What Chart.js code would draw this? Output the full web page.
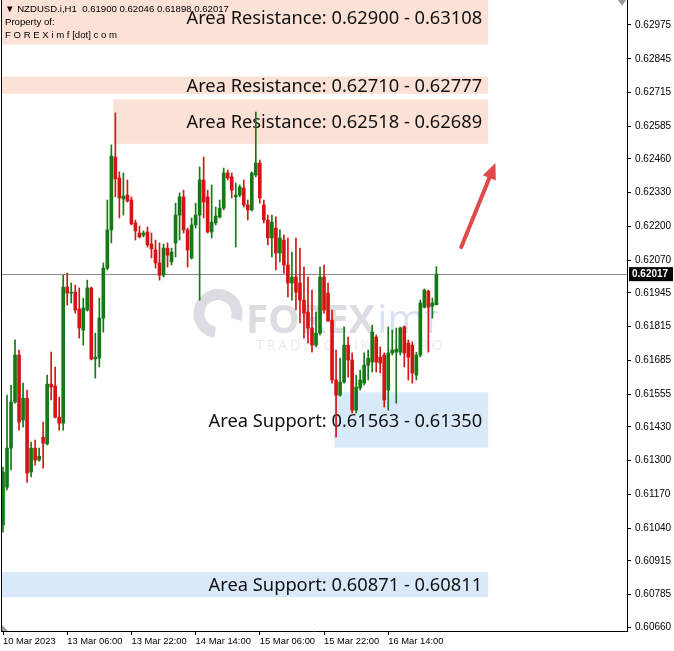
<!DOCTYPE html>
<html>
<head>
<meta charset="utf-8">
<script src="https://cdn.jsdelivr.net/npm/chart.js@4.4.0/dist/chart.umd.min.js"></script>
<style>
  html, body { margin: 0; padding: 0; background: #fff; }
  #wrap { width: 674px; height: 651px; }
</style>
</head>
<body>
<div id="wrap"><canvas id="myChart"></canvas></div>
<script>
// NZDUSD H1 candles (oldest first)
const openP = [0.61052,0.61198,0.61348,0.61525,0.61706,0.61456,0.61540,0.61256,0.61348,0.61302,
  0.61390,0.61364,0.61594,0.61587,0.61467,0.61444,0.61967,0.61944,0.61948,0.61883,
  0.61802,0.61879,0.61964,0.61691,0.61694,0.61848,0.62040,0.62187,0.62467,0.62387,
  0.62306,0.62321,0.62302,0.62214,0.62175,0.62167,0.62179,0.62133,0.62110,0.62060,
  0.62013,0.62117,0.62064,0.62137,0.62244,0.62314,0.62187,0.62079,0.62206,0.62244,
  0.62379,0.62314,0.62179,0.62214,0.62237,0.62271,0.62406,0.62391,0.62314,0.62321,
  0.62348,0.62283,0.62264,0.62398,0.62444,0.62283,0.62225,0.62156,0.62194,0.62098,
  0.62148,0.62052,0.61983,0.62006,0.61983,0.61917,0.61871,0.61810,0.61744,0.61790,
  0.62006,0.61944,0.61840,0.61610,0.61552,0.61602,0.61744,0.61687,0.61494,0.61579,
  0.61598,0.61667,0.61679,0.61775,0.61698,0.61706,0.61571,0.61714,0.61717,0.61717,
  0.61814,0.61752,0.61744,0.61629,0.61706,0.61890,0.61952,0.61894,0.61900];
const highP = [0.61275,0.61552,0.61590,0.61764,0.61725,0.61598,0.61571,0.61371,0.61379,0.61348,
  0.61448,0.61629,0.61717,0.61660,0.61544,0.62013,0.62021,0.61983,0.61975,0.61964,
  0.61925,0.61994,0.61967,0.61790,0.61925,0.62060,0.62302,0.62514,0.62637,0.62410,
  0.62406,0.62379,0.62314,0.62225,0.62202,0.62183,0.62198,0.62175,0.62148,0.62137,
  0.62133,0.62137,0.62117,0.62290,0.62329,0.62340,0.62194,0.62233,0.62290,0.62429,
  0.62467,0.62340,0.62360,0.62275,0.62302,0.62425,0.62417,0.62406,0.62367,0.62360,
  0.62379,0.62302,0.62410,0.62640,0.62456,0.62302,0.62244,0.62244,0.62237,0.62187,
  0.62167,0.62156,0.62102,0.62156,0.62117,0.62044,0.62006,0.61956,0.61871,0.62044,
  0.62052,0.61983,0.61879,0.61725,0.61694,0.61814,0.61775,0.61714,0.61629,0.61648,
  0.61714,0.61725,0.61821,0.61783,0.61737,0.61714,0.61814,0.61802,0.61810,0.61814,
  0.61818,0.61764,0.61756,0.61717,0.61917,0.61960,0.61956,0.61925,0.62046];
const lowP = [0.61025,0.61187,0.61264,0.61521,0.61417,0.61429,0.61217,0.61237,0.61283,0.61298,
  0.61271,0.61360,0.61533,0.61464,0.61417,0.61417,0.61898,0.61906,0.61867,0.61771,
  0.61744,0.61875,0.61687,0.61617,0.61660,0.61794,0.62033,0.62137,0.62314,0.62233,
  0.62244,0.62294,0.62206,0.62148,0.62156,0.62160,0.62121,0.62079,0.62040,0.61994,
  0.62006,0.62044,0.62052,0.62083,0.62148,0.62175,0.62044,0.62075,0.62194,0.61917,
  0.62233,0.62175,0.62156,0.62206,0.62233,0.62264,0.62379,0.62310,0.62121,0.62314,
  0.62275,0.62225,0.62260,0.62391,0.62290,0.62214,0.62129,0.62083,0.62033,0.62064,
  0.62021,0.61929,0.61917,0.61879,0.61829,0.61771,0.61752,0.61717,0.61737,0.61783,
  0.61867,0.61836,0.61598,0.61390,0.61548,0.61598,0.61621,0.61483,0.61483,0.61571,
  0.61590,0.61610,0.61641,0.61641,0.61637,0.61506,0.61494,0.61706,0.61521,0.61706,
  0.61660,0.61610,0.61598,0.61610,0.61698,0.61887,0.61717,0.61848,0.61898];
const closeP = [0.61256,0.61348,0.61525,0.61706,0.61448,0.61540,0.61252,0.61348,0.61302,0.61317,
  0.61367,0.61594,0.61583,0.61467,0.61444,0.61967,0.61944,0.61948,0.61879,0.61810,
  0.61887,0.61964,0.61691,0.61698,0.61848,0.62040,0.62187,0.62471,0.62383,0.62310,
  0.62317,0.62298,0.62210,0.62183,0.62160,0.62175,0.62129,0.62114,0.62060,0.62013,
  0.62117,0.62090,0.62102,0.62244,0.62314,0.62187,0.62110,0.62206,0.62244,0.62379,
  0.62294,0.62179,0.62217,0.62240,0.62271,0.62406,0.62387,0.62340,0.62321,0.62352,
  0.62283,0.62264,0.62406,0.62444,0.62310,0.62225,0.62156,0.62217,0.62098,0.62156,
  0.62052,0.61983,0.62006,0.61948,0.61917,0.61867,0.61810,0.61744,0.61790,0.62006,
  0.61879,0.61836,0.61610,0.61552,0.61602,0.61744,0.61687,0.61494,0.61583,0.61610,
  0.61667,0.61694,0.61794,0.61679,0.61675,0.61533,0.61714,0.61725,0.61729,0.61810,
  0.61714,0.61698,0.61637,0.61706,0.61906,0.61956,0.61890,0.61906,0.62017];

// hourly slots across the window (the right part stays empty, like MT4 chart shift)
const slotCount = 156;
const tickIndex = [0, 16, 32, 48, 64, 80, 96];
const tickText = ['10 Mar 2023', '13 Mar 06:00', '13 Mar 22:00', '14 Mar 14:00',
  '15 Mar 06:00', '15 Mar 22:00', '16 Mar 14:00'];
const priceTicks = [0.62975, 0.62845, 0.62715, 0.62585, 0.62460, 0.62330, 0.62200, 0.62070,
  0.61945, 0.61815, 0.61685, 0.61555, 0.61430, 0.61300, 0.61170, 0.61040, 0.60915, 0.60785, 0.60660];

// resistance / support areas
const zoneText = ['Area Resistance: 0.62900 - 0.63108', 'Area Resistance: 0.62710 - 0.62777',
  'Area Resistance: 0.62518 - 0.62689', 'Area Support: 0.61563 - 0.61350', 'Area Support: 0.60871 - 0.60811'];
const zoneHigh = [0.63108, 0.62777, 0.62689, 0.61563, 0.60871];
const zoneLow = [0.62900, 0.62710, 0.62518, 0.61350, 0.60775];
const zoneStart = [null, null, 27.5, 82.6, null];   // slot index, null = from left edge
const zoneEnd = 120.9;
const zoneKind = ['res', 'res', 'res', 'sup', 'sup'];

const lastPrice = 0.62017;
const arrowFrom = [114.2, 0.62121];
const arrowTo = [122.7, 0.62444];

const upColor = '#157a15';
const downColor = '#d41515';
const candleColor = closeP.map((c, i) => c >= openP[i] ? upColor : downColor);

const slots = Array.from({ length: slotCount }, (_, i) => i);

const drawings = {
  id: 'drawings',
  beforeDatasetsDraw(chart) {
    const { ctx, chartArea: a, scales: { x, y } } = chart;
    ctx.save();
    ctx.beginPath();
    ctx.rect(a.left, a.top, a.right - a.left, a.bottom - a.top);
    ctx.clip();

    // watermark
    const cx = (a.left + a.right) / 2, cy = (a.top + a.bottom) / 2;
    ctx.globalAlpha = 0.3;
    ctx.strokeStyle = '#8c8ca0';
    ctx.lineWidth = 11;
    ctx.beginPath();
    ctx.arc(cx - 96, cy - 2, 19, Math.PI * 0.55, Math.PI * 2.1);
    ctx.stroke();
    ctx.fillStyle = '#8c8ca0';
    ctx.font = 'bold 40px "Open Sans"';
    ctx.textAlign = 'left';
    ctx.textBaseline = 'alphabetic';
    ctx.fillText('FOREX', cx - 68, cy + 17);
    const wF = ctx.measureText('FOREX').width;
    ctx.fillStyle = '#7a9ad8';
    ctx.font = '40px "Open Sans"';
    ctx.fillText('imf', cx - 68 + wF + 2, cy + 17);
    ctx.globalAlpha = 0.22;
    ctx.fillStyle = '#9a9aaa';
    ctx.font = '14px "Open Sans"';
    ctx.letterSpacing = '3px';
    ctx.fillText('TRADING LIKE A PRO', cx - 58, cy + 34);
    ctx.letterSpacing = '0px';
    ctx.globalAlpha = 1;

    // zones
    zoneText.forEach((t, k) => {
      const left = zoneStart[k] === null ? a.left : x.getPixelForValue(zoneStart[k]);
      const right = x.getPixelForValue(zoneEnd);
      const yTop = y.getPixelForValue(zoneHigh[k]);
      const bottom = y.getPixelForValue(zoneLow[k]);
      const top = Math.max(a.top, yTop);
      ctx.fillStyle = zoneKind[k] === 'res' ? '#fbe1d6' : '#d9e9f9';
      ctx.fillRect(left, top, right - left, bottom - top);
      ctx.fillStyle = '#111';
      ctx.font = '18.3px "Noto Sans"';
      ctx.textAlign = 'right';
      ctx.textBaseline = 'middle';
      ctx.fillText(t, right - 6, (yTop + bottom) / 2 + 1.5);
    });

    // current price line
    const py = Math.round(y.getPixelForValue(lastPrice)) + 0.5;
    ctx.strokeStyle = '#8a8a8a';
    ctx.lineWidth = 1;
    ctx.beginPath();
    ctx.moveTo(a.left, py);
    ctx.lineTo(a.right, py);
    ctx.stroke();
    ctx.restore();
  },
  afterDatasetsDraw(chart) {
    const { ctx, chartArea: a, scales: { x, y } } = chart;
    ctx.save();
    // red arrow
    const x1 = x.getPixelForValue(arrowFrom[0]), y1 = y.getPixelForValue(arrowFrom[1]);
    const x2 = x.getPixelForValue(arrowTo[0]), y2 = y.getPixelForValue(arrowTo[1]);
    const ang = Math.atan2(y2 - y1, x2 - x1);
    const hl = 16;
    ctx.strokeStyle = '#e14848';
    ctx.fillStyle = '#e14848';
    ctx.lineWidth = 4;
    ctx.lineCap = 'round';
    ctx.beginPath();
    ctx.moveTo(x1, y1);
    ctx.lineTo(x2 - Math.cos(ang) * hl * 0.8, y2 - Math.sin(ang) * hl * 0.8);
    ctx.stroke();
    ctx.beginPath();
    ctx.moveTo(x2, y2);
    ctx.lineTo(x2 - hl * Math.cos(ang) + 7 * Math.sin(ang), y2 - hl * Math.sin(ang) - 7 * Math.cos(ang));
    ctx.lineTo(x2 - hl * Math.cos(ang) - 7 * Math.sin(ang), y2 - hl * Math.sin(ang) + 7 * Math.cos(ang));
    ctx.closePath();
    ctx.fill();

    // header text
    ctx.fillStyle = '#000';
    ctx.textAlign = 'left';
    ctx.textBaseline = 'alphabetic';
    ctx.font = '9.6px "Liberation Sans"';
    ctx.fillText('\u25BC NZDUSD.i,H1  ' + openP[openP.length - 1].toFixed(5) + ' ' +
      highP[highP.length - 1].toFixed(5) + ' ' + lowP[lowP.length - 1].toFixed(5) + ' ' +
      closeP[closeP.length - 1].toFixed(5), a.left + 4, a.top + 12);
    ctx.fillText('Property of:', a.left + 4, a.top + 25);
    ctx.fillText('F O R E X i m f [dot] c o m', a.left + 4, a.top + 38);

    // frame: left edge
    ctx.strokeStyle = '#000';
    ctx.lineWidth = 1;
    ctx.beginPath();
    ctx.moveTo(a.left + 0.5, a.top);
    ctx.lineTo(a.left + 0.5, a.bottom);
    ctx.stroke();

    // chart-shift marker (top right) and small corner marker (bottom left)
    ctx.fillStyle = '#9a9aa6';
    ctx.beginPath();
    ctx.moveTo(a.right - 9, a.top);
    ctx.lineTo(a.right - 1, a.top);
    ctx.lineTo(a.right - 5, a.top + 6);
    ctx.closePath();
    ctx.fill();
    ctx.beginPath();
    ctx.moveTo(a.left + 1, a.bottom - 6);
    ctx.lineTo(a.left + 1, a.bottom);
    ctx.lineTo(a.left + 7, a.bottom);
    ctx.closePath();
    ctx.fill();

    // last price tag on the axis
    const py = y.getPixelForValue(lastPrice);
    ctx.fillStyle = '#000';
    ctx.fillRect(a.right + 2, py - 7, 44, 14);
    ctx.fillStyle = '#fff';
    ctx.font = 'bold 10px "Liberation Sans"';
    ctx.textBaseline = 'middle';
    ctx.fillText(lastPrice.toFixed(5), a.right + 5, py + 0.5);
    ctx.restore();
  }
};

const noPad = (s) => { s.paddingTop = 0; s.paddingBottom = 0; s.paddingLeft = 0; s.paddingRight = 0; };

new Chart(document.getElementById('myChart'), {
  type: 'bar',
  data: {
    labels: slots,
    datasets: [
      {
        label: 'wick',
        data: lowP.map((l, i) => [l, highP[i]]),
        backgroundColor: candleColor,
        barThickness: 1,
        grouped: false,
        order: 2
      },
      {
        label: 'body',
        data: openP.map((o, i) => [o, closeP[i]]),
        backgroundColor: candleColor,
        barThickness: 3,
        minBarLength: 1,
        grouped: false,
        order: 1
      }
    ]
  },
  options: {
    responsive: true,
    maintainAspectRatio: false,
    animation: false,
    devicePixelRatio: 1,
    layout: { padding: { left: 1, top: 0, right: 0, bottom: 0 } },
    plugins: { legend: { display: false }, tooltip: { enabled: false } },
    scales: {
      x: {
        type: 'category',
        offset: true,
        grid: { drawOnChartArea: false, drawTicks: true, tickLength: 4, offset: false, color: '#000' },
        border: { display: true, color: '#000' },
        ticks: {
          autoSkip: false, maxRotation: 0, minRotation: 0, align: 'start', padding: 1,
          font: { family: 'Liberation Sans', size: 9.4 }, color: '#000',
          callback: (v) => tickText[tickIndex.indexOf(v)]
        },
        afterBuildTicks: (s) => { s.ticks = tickIndex.map(v => ({ value: v })); },
        afterFit: (s) => { s.height = 20; noPad(s); }
      },
      y: {
        position: 'right',
        min: 0.60645,
        max: 0.63071,
        grid: { drawOnChartArea: false, tickLength: 4, color: '#000' },
        border: { display: true, color: '#000' },
        ticks: { padding: 4, font: { family: 'Liberation Sans', size: 10 }, color: '#000',
          callback: (v) => Number(v).toFixed(5) },
        afterBuildTicks: (s) => { s.ticks = priceTicks.map(v => ({ value: v })); },
        afterFit: (s) => { s.width = 47; noPad(s); }
      }
    }
  },
  plugins: [drawings]
});
</script>
</body>
</html>
